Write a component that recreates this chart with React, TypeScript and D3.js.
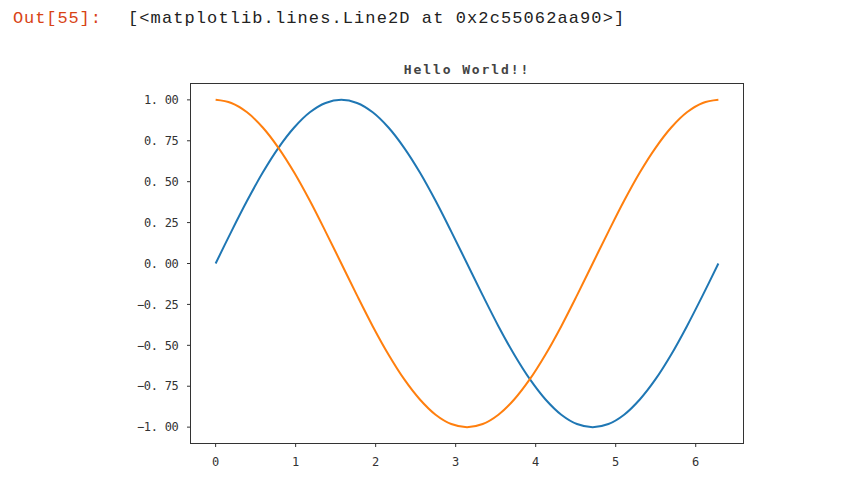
import React from 'react';
import * as d3 from 'd3';

const xs = [0, 0.196, 0.393, 0.589, 0.785, 0.982, 1.178, 1.374, 1.571, 1.767, 1.963, 2.16, 2.356, 2.553, 2.749, 2.945, 3.142, 3.338, 3.534, 3.731, 3.927, 4.123, 4.32, 4.516, 4.712, 4.909, 5.105, 5.301, 5.498, 5.694, 5.89, 6.087, 6.283];
const sinVals = [0, 0.195, 0.383, 0.556, 0.707, 0.831, 0.924, 0.981, 1.0, 0.981, 0.924, 0.831, 0.707, 0.556, 0.383, 0.195, 0, -0.195, -0.383, -0.556, -0.707, -0.831, -0.924, -0.981, -1.0, -0.981, -0.924, -0.831, -0.707, -0.556, -0.383, -0.195, 0];
const cosVals = [1.0, 0.981, 0.924, 0.831, 0.707, 0.556, 0.383, 0.195, 0, -0.195, -0.383, -0.556, -0.707, -0.831, -0.924, -0.981, -1.0, -0.981, -0.924, -0.831, -0.707, -0.556, -0.383, -0.195, 0, 0.195, 0.383, 0.556, 0.707, 0.831, 0.924, 0.981, 1.0];
const xTicks = [0, 1, 2, 3, 4, 5, 6];
const yTicks = [1.0, 0.75, 0.5, 0.25, 0.0, -0.25, -0.5, -0.75, -1.0];
const series = [
  { name: 'sin', values: sinVals, color: '#1f77b4' },
  { name: 'cos', values: cosVals, color: '#ff7f0e' },
];

const App: React.FC = () => {
  const width = 842;
  const height = 483;
  const box = { left: 190.5, right: 743.5, top: 83.5, bottom: 443.5 };

  const x = d3.scaleLinear().domain([-0.314, 6.597]).range([box.left, box.right]);
  const y = d3.scaleLinear().domain([-1.1, 1.1]).range([box.bottom, box.top]);

  const line = d3.line<number>()
    .x((_, i) => x(xs[i]))
    .y(d => y(d))
    .curve(d3.curveCatmullRom);

  const tickFont = '"DejaVu Sans Mono", monospace';
  const fmt = (t: number) => (t < 0 ? '\u2212' : '') + Math.abs(t).toFixed(2).replace('.', '. ');

  return (
    <svg width={width} height={height} style={{ position: 'absolute', left: 0, top: 0, background: '#fff' }}>
      <text x={13} y={23} fontFamily='"Liberation Mono", monospace' fontSize={17} letterSpacing={0.9} fill="#d84315">Out[55]:</text>
      <text x={128} y={23} fontFamily='"Liberation Mono", monospace' fontSize={17} letterSpacing={1.1} fill="#222">[&lt;matplotlib.lines.Line2D at 0x2c55062aa90&gt;]</text>

      <text x={(box.left + box.right) / 2} y={74} textAnchor="middle" fontFamily={tickFont} fontWeight="bold" fontSize={13} letterSpacing={1.9} fill="#444">Hello World!!</text>

      {series.map(s => (
        <path key={s.name} d={line(s.values) || ''} fill="none" stroke={s.color} strokeWidth={2} />
      ))}

      <rect x={box.left} y={box.top} width={box.right - box.left} height={box.bottom - box.top} fill="none" stroke="#333" strokeWidth={1} />

      {yTicks.map(t => (
        <g key={`y${t}`}>
          <line x1={box.left - 3.5} x2={box.left} y1={y(t)} y2={y(t)} stroke="#333" />
          <text x={box.left - 12} y={y(t)} dy="0.35em" textAnchor="end" fontFamily={tickFont} fontSize={12} letterSpacing={-0.3} fill="#333">
            {fmt(t)}
          </text>
        </g>
      ))}
      {xTicks.map(t => (
        <g key={`x${t}`}>
          <line x1={x(t)} x2={x(t)} y1={box.bottom} y2={box.bottom + 3.5} stroke="#333" />
          <text x={x(t)} y={466} textAnchor="middle" fontFamily={tickFont} fontSize={12} fill="#333">{t}</text>
        </g>
      ))}
    </svg>
  );
};

export default App;
